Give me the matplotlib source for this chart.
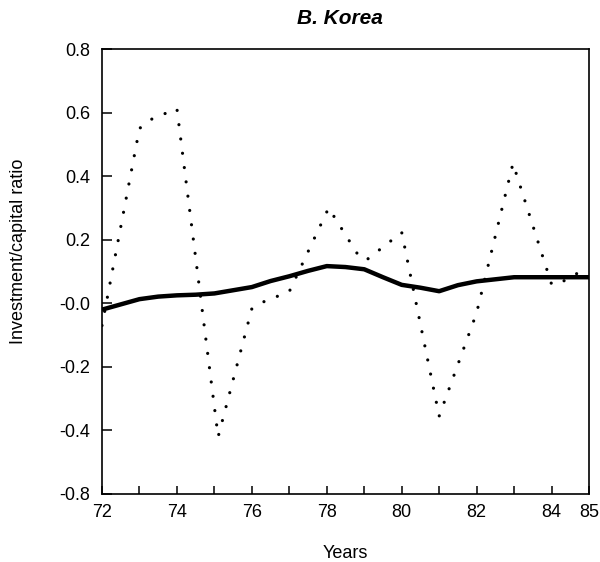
import numpy as np
import matplotlib
matplotlib.use("Agg")
import matplotlib.pyplot as plt
from matplotlib.ticker import FixedLocator

plt.rcParams['font.family'] = ['Liberation Sans', 'DejaVu Sans']

# solid line: smoothed investment/capital ratio
solid_years = [72.0, 73.0, 73.5, 74.0, 74.5, 75.0, 76.0, 76.5, 77.0, 77.5, 78.0,
               78.5, 79.0, 79.5, 80.0, 80.5, 81.0, 81.5, 82.0, 83.0, 84.0, 85.0]
solid_values = [-0.02, 0.013, 0.021, 0.025, 0.027, 0.031, 0.051, 0.070, 0.085,
                0.102, 0.117, 0.114, 0.107, 0.082, 0.058, 0.049, 0.038, 0.057,
                0.069, 0.082, 0.082, 0.082]

# dotted line: actual ratio
dot_years = [72.0, 73.0, 73.3, 73.6, 74.0, 75.1, 76.0, 76.3, 77.0, 78.05, 78.9,
             79.1, 80.0, 81.0, 82.0, 82.97, 84.0, 84.2, 85.0]
dot_values = [-0.07, 0.55, 0.578, 0.593, 0.612, -0.42, -0.017, 0.004, 0.037,
              0.30, 0.14, 0.14, 0.223, -0.355, -0.03, 0.44, 0.06, 0.062, 0.115]

x_major = [72, 74, 76, 78, 80, 82, 84, 85]
x_minor = [73, 75, 77, 79, 81, 83]
y_ticks = [0.8, 0.6, 0.4, 0.2, 0.0, -0.2, -0.4, -0.6]
y_tick_labels = ['0.8', '0.6', '0.4', '0.2', '-0.0', '-0.2', '-0.4', '-0.8']

fig = plt.figure(figsize=(6, 5.62), dpi=100)
ax = fig.add_axes([0.17, 0.121, 0.8117, 0.7918])

ax.plot(dot_years, dot_values, color='black', linewidth=2.3,
        linestyle=(0, (0.01, 4.5)), dash_capstyle='round')
ax.plot(solid_years, solid_values, color='black', linewidth=3.2,
        solid_capstyle='butt')

ax.set_xlim(72, 85)
ax.set_ylim(-0.6, 0.8)

ax.xaxis.set_major_locator(FixedLocator(x_major))
ax.xaxis.set_minor_locator(FixedLocator(x_minor))
ax.set_yticks(y_ticks)
ax.set_yticklabels(y_tick_labels)

ax.tick_params(axis='both', which='both', direction='in', top=False, right=False,
               width=1.1, colors='black', labelsize=13)
ax.tick_params(axis='x', which='both', length=6, pad=7)
ax.tick_params(axis='y', which='major', length=7, pad=8.5)

for side in ['bottom', 'left', 'top', 'right']:
    ax.spines[side].set_linewidth(1.2)

ax.set_xlabel('Years', fontsize=13)
ax.xaxis.set_label_coords(0.5, -0.115)
ax.set_ylabel('Investment/capital ratio', fontsize=13)
ax.yaxis.set_label_coords(-0.155, 0.545)

# panel title
fig.text(0.567, 1 - 18 / 562, 'B. Korea', fontsize=15, fontweight='bold',
         fontstyle='italic', ha='center', va='center')

fig.savefig('out.png', dpi=100)
